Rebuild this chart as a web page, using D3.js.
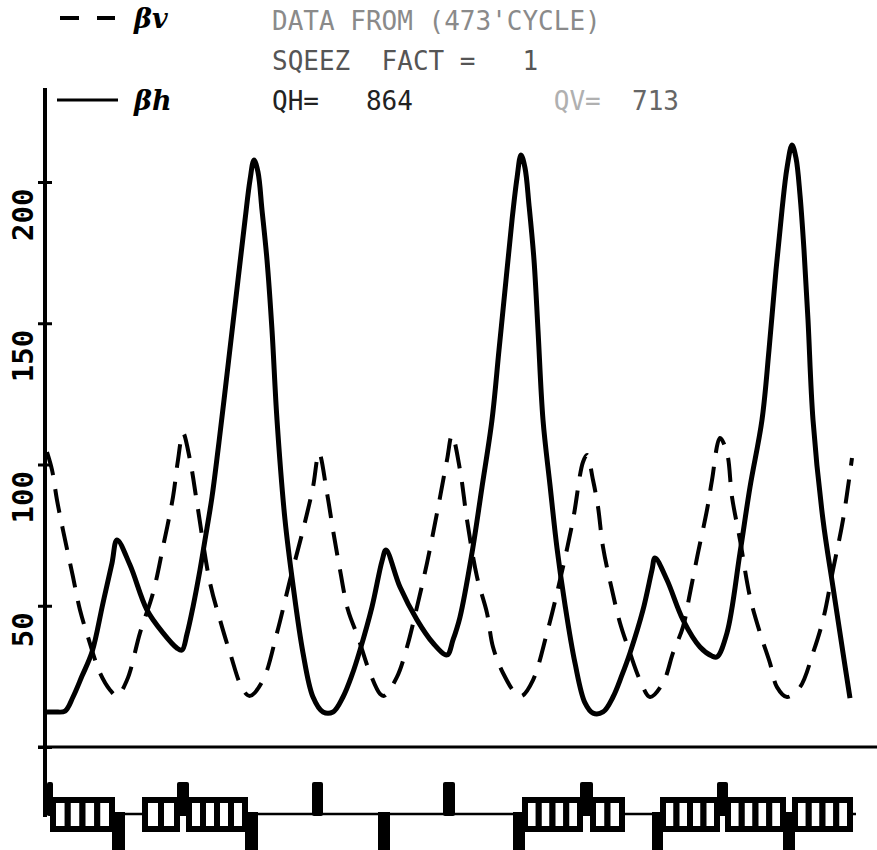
<!DOCTYPE html>
<html>
<head>
<meta charset="utf-8">
<script src="https://cdn.jsdelivr.net/npm/d3@7"></script>
<style>
  body { margin: 0; background: #fff; }
  svg { display: block; }
</style>
</head>
<body>
<svg id="chart" width="877" height="850"></svg>
<script>
(function(){

  // horizontal beta (solid), s in plot units along the ring
  const sH = [1,9,19,27,36,46,57,66,71,84,101,117,131,136,141,147,154,159,166,172,178,185,192,199,204,208,212,216,221,226,231,239,247,257,267,277,287,
              297,306,314,326,336,340,354,371,387,401,407,414,426,436,446,453,460,466,471,475,479,483,488,492,497,504,511,519,529,539,547,557,
              567,576,584,597,606,609,621,637,654,666,671,681,694,704,716,723,730,736,741,746,750,754,758,762,767,777,787,797,804]
  const betaH = [12.4,12.4,12.7,17.7,25.1,33.6,51.0,65.1,73.3,64.4,48.5,40.4,35.0,34.3,40.0,49.6,62.7,73.3,88.5,105.1,122.8,144.1,165.3,186.5,200.7,207.8,203.5,190.1,172.4,147.6,115.8,80.4,57.3,33.3,17.7,12.4,12.4,
                 17.7,25.5,34.3,49.6,65.8,69.7,56.6,45.0,36.8,32.6,37.9,46.0,68.7,92.0,115.8,140.5,165.3,186.5,201.4,209.6,205.0,191.9,172.4,147.6,115.8,92.7,70.4,50.3,29.7,15.6,12.0,12.4,
                 17.7,25.5,33.3,48.5,62.7,66.9,59.1,45.0,35.4,32.2,31.9,40.4,68.7,92.0,115.8,140.5,168.8,190.1,205.0,213.1,208.5,195.4,175.9,151.2,115.8,80.4,56.6,33.3,17.3]

  // vertical beta (dashed)
  const sV = [1,6,11,17,27,34,42,54,64,71,81,94,107,117,127,132,137,144,151,164,174,184,197,204,217,231,244,257,267,273,
              281,287,294,302,312,324,334,338,351,361,371,381,391,401,406,414,421,431,441,447,457,471,476,487,501,514,527,537,541,
              547,552,557,566,574,584,594,604,617,627,637,644,652,661,666,674,681,686,694,704,714,724,731,741,754,767,777,787,797,806]
  const betaV = [104.4,98.1,87.4,76.8,60.2,48.5,38.9,26.2,20.2,18.1,23.7,40.4,54.5,70.8,88.5,101.6,111.2,101.6,86.4,58.1,45.0,33.3,20.2,18.1,23.7,40.4,59.1,76.8,92.0,104.1,
                 89.9,76.8,62.7,48.5,38.9,26.2,18.8,18.1,24.8,35.4,49.6,65.1,82.8,101.6,110.4,98.1,80.4,60.2,47.4,35.4,26.2,18.4,18.1,23.7,40.4,59.1,80.4,100.9,103.4,
                 94.5,85.0,70.8,55.6,43.9,33.3,23.7,17.7,22.7,33.3,42.5,54.5,68.7,83.9,94.5,109.4,104.1,88.5,73.3,53.1,40.4,29.7,21.2,17.7,21.2,33.3,45.0,62.7,80.4,102.3]

  const yTicks = [0, 50, 100, 150, 200]

  // lattice: quads [start, end], bend groups [start, end, count]
  const quadF = [[1,7],[131,143],[266,277],[397,409],[534,547],[671,682]]
  const quadD = [[66,79],[199,212],[332,344],[467,479],[606,617],[737,749]]
  const bendGroups = [[7,66,4],[99,131,2],[143,199,4],[479,534,4],[547,576,2],[617,671,4],[682,737,4],[749,804,4]]

  const header = ['DATA FROM (473\'CYCLE)', 'SQEEZ  FACT =   1', 'QH=   864         QV=  713']
  const legendNames = ['\u03b2v', '\u03b2h']

  const svg = d3.select('#chart')
  const x = d3.scaleLinear().domain([0, 806]).range([46, 852])
  const y = d3.scaleLinear().domain([0, 200]).range([747, 182])

  const nb = s => s.replace(/ /g, '\u00a0')

  // header text
  const hdr = svg.append('g').attr('font-family', 'DejaVu Sans Mono')
      .attr('font-size', '26px')
  hdr.append('text').attr('x', 272).attr('y', 30).attr('fill', '#8a8a8a')
      .text(nb(header[0]))
  hdr.append('text').attr('x', 272).attr('y', 70).attr('fill', '#555')
      .text(nb(header[1]))
  let l3 = header[2].split('QV=')
  let t3 = hdr.append('text').attr('x', 272).attr('y', 110)
  t3.append('tspan').attr('fill', '#222').text(nb(l3[0]))
  t3.append('tspan').attr('fill', '#b0b0b0').text('QV=')
  t3.append('tspan').attr('fill', '#666').text(nb(l3[1]))

  // legend
  const leg = svg.append('g')
  leg.append('line').attr('x1', 60).attr('x2', 115).attr('y1', 18).attr('y2', 18)
      .attr('stroke', '#000').attr('stroke-width', 4).attr('stroke-dasharray', '19,18')
  leg.append('line').attr('x1', 57).attr('x2', 118).attr('y1', 100).attr('y2', 100)
      .attr('stroke', '#000').attr('stroke-width', 3)
  leg.selectAll('text.name').data(legendNames).enter().append('text')
      .attr('class', 'name')
      .attr('x', 134).attr('y', (d, i) => i ? 110 : 28)
      .attr('font-family', 'DejaVu Serif').attr('font-weight', 'bold')
      .attr('font-style', 'italic').attr('font-size', '27px')
      .text(d => d)

  // axes
  svg.append('line').attr('x1', 45).attr('x2', 45).attr('y1', 88).attr('y2', 817)
      .attr('stroke', '#000').attr('stroke-width', 4)
  svg.append('line').attr('x1', 38).attr('x2', 877).attr('y1', y(0)).attr('y2', y(0))
      .attr('stroke', '#000').attr('stroke-width', 3)

  const yAxis = svg.append('g').attr('transform', 'translate(45,0)')
      .call(d3.axisLeft(y).tickValues(yTicks).tickSize(6)
        .tickFormat(d => d === 0 ? '' : d))
  yAxis.select('.domain').remove()
  yAxis.selectAll('.tick line').attr('x1', -7).attr('x2', 7)
      .attr('stroke', '#000').attr('stroke-width', 3)
  yAxis.selectAll('.tick text')
      .attr('transform', 'rotate(-90)')
      .attr('x', -6).attr('y', -12).attr('dy', 0)
      .attr('text-anchor', 'end')
      .attr('font-family', 'DejaVu Sans Mono').attr('font-weight', 'bold')
      .attr('font-size', '29px').attr('fill', '#000')

  // curves
  const line = d3.line().x(d => x(d[0])).y(d => y(d[1]))
      .curve(d3.curveCatmullRom.alpha(0.5))

  svg.append('path').datum(d3.zip(sV, betaV))
      .attr('d', line).attr('fill', 'none').attr('stroke', '#000')
      .attr('stroke-width', 4).attr('stroke-dasharray', '24,14')

  svg.append('path').datum(d3.zip(sH, betaH))
      .attr('d', line).attr('fill', 'none').attr('stroke', '#000')
      .attr('stroke-width', 5).attr('stroke-linejoin', 'round')

  // lattice strip
  const lat = svg.append('g')
  lat.append('line').attr('x1', x(1)).attr('x2', x(810)).attr('y1', 814).attr('y2', 814)
      .attr('stroke', '#000').attr('stroke-width', 2.5)

  const bends = []
  bendGroups.forEach(function(g) {
    let w = (g[1] - g[0]) / g[2]
    for (let i = 0; i < g[2]; i++) bends.push([g[0] + i*w, g[0] + (i+1)*w])
  })
  lat.selectAll('rect.bend').data(bends).enter().append('rect')
      .attr('class', 'bend')
      .attr('x', d => x(d[0])).attr('width', d => x(d[1]) - x(d[0]))
      .attr('y', 800).attr('height', 29)
      .attr('fill', '#fff').attr('stroke', '#000').attr('stroke-width', 6)

  lat.selectAll('rect.qf').data(quadF).enter().append('rect')
      .attr('class', 'qf')
      .attr('x', d => x(d[0])).attr('width', d => x(d[1]) - x(d[0]))
      .attr('y', 782).attr('height', 34).attr('rx', 2)
      .attr('fill', '#000')

  lat.selectAll('rect.qd').data(quadD).enter().append('rect')
      .attr('class', 'qd')
      .attr('x', d => x(d[0])).attr('width', d => x(d[1]) - x(d[0]))
      .attr('y', 812).attr('height', 40)
      .attr('fill', '#000')

})()
</script>
</body>
</html>
